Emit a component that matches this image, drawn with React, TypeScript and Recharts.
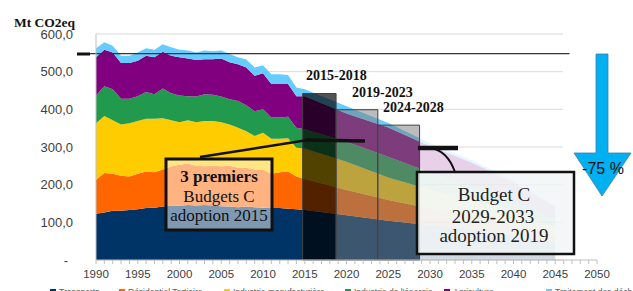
import { AreaChart, Area, XAxis, YAxis, CartesianGrid, ReferenceArea, ReferenceLine } from "recharts";

// années : historique annuel puis projection tous les 5 ans
const YEARS = [
  1990, 1991, 1992, 1993, 1994, 1995, 1996, 1997, 1998, 1999,
  2000, 2001, 2002, 2003, 2004, 2005, 2006, 2007, 2008, 2009,
  2010, 2011, 2012, 2013, 2014, 2015,
  2020, 2025, 2030, 2035, 2040, 2045,
];

const TRANSPORTS = [
  123, 126, 131, 131, 133, 135, 138, 139, 142, 144,
  144, 146, 145, 146, 145, 143, 142, 140, 142, 140,
  139, 138, 138, 136, 135, 133,
  119, 104, 92, 80, 65, 45,
];
const RESIDENTIEL = [
  90, 105, 98, 93, 89, 94, 97, 94, 98, 104,
  109, 110, 105, 103, 105, 106, 108, 105, 103, 100,
  101, 91, 95, 99, 87, 82,
  67, 55, 45, 38, 30, 20,
];
const INDUSTRIE_MANUF = [
  150, 151, 142, 136, 141, 140, 140, 142, 136, 123,
  113, 115, 116, 120, 119, 117, 110, 106, 97, 89,
  98, 93, 89, 88, 76, 81,
  75, 60, 50, 42, 33, 22,
];
const ENERGIE = [
  74, 79, 82, 68, 65, 66, 71, 65, 79, 72,
  71, 64, 68, 71, 70, 68, 67, 71, 69, 66,
  62, 56, 56, 57, 53, 51,
  53, 55, 45, 38, 30, 20,
];
const AGRICULTURE = [
  101, 97, 98, 95, 95, 94, 96, 98, 98, 99,
  101, 100, 97, 93, 94, 101, 98, 98, 100, 94,
  96, 89, 89, 87, 84, 88,
  75, 78, 70, 60, 48, 33,
];
const DECHETS = [
  24, 20, 18, 19, 19, 22, 20, 20, 20, 23,
  20, 21, 20, 23, 21, 21, 22, 18, 21, 22,
  21, 26, 26, 24, 23, 18,
  19, 12, 8, 7, 6, 5,
];

const SECTORS = [
  { key: "transports", name: "Transports", color: "#003366", values: TRANSPORTS },
  { key: "residentiel", name: "Résidentiel Tertiaire", color: "#FF6600", values: RESIDENTIEL },
  { key: "manuf", name: "Industrie manufacturière", color: "#FFCC00", values: INDUSTRIE_MANUF },
  { key: "energie", name: "Industrie de l'énergie", color: "#229A4E", values: ENERGIE },
  { key: "agri", name: "Agriculture", color: "#800080", values: AGRICULTURE },
  { key: "dechets", name: "Traitement des déchets", color: "#66CCFF", values: DECHETS },
];

// budgets carbone
const BUDGET_LABELS = ["2015-2018", "2019-2023", "2024-2028"];
const BUDGET_START = [2015, 2019, 2024];
const BUDGET_END = [2018, 2023, 2028];
const BUDGET_VALUES = [442, 399, 358];

const Y_TICKS = [0, 100, 200, 300, 400, 500, 600];
const X_LABELS = [1990, 1995, 2000, 2005, 2010, 2015, 2020, 2025, 2030, 2035, 2040, 2045, 2050];
const X_MINOR = Array.from({ length: 61 }, (_, i) => 1990 + i);
const REF_1990 = 548;
const FADE_FROM = 2028.7;

const data = YEARS.map((year, i) => {
  const row: Record<string, number> = { year };
  SECTORS.forEach((s) => (row[s.key] = s.values[i]));
  return row;
});

const fadeOffset = (FADE_FROM - YEARS[0]) / (YEARS[YEARS.length - 1] - YEARS[0]);

const SANS = "'Liberation Sans', Arial, sans-serif";
const SERIF = "'Liberation Serif', 'Times New Roman', serif";

function YTick({ x, y, payload }: any) {
  const v = payload.value as number;
  const label = v === 0 ? "-" : v.toFixed(1).replace(".", ",");
  return (
    <text x={v === 0 ? x - 5 : x} y={y} dy="0.36em" textAnchor="end" fontSize={13} fontFamily={SANS} fill="#404040">
      {label}
    </text>
  );
}

function XTick({ x, y, payload }: any) {
  if (!X_LABELS.includes(payload.value)) return <g />;
  return (
    <text x={x} y={y} dy="0.71em" textAnchor="middle" fontSize={11.5} fontFamily={SANS} fill="#404040">
      {payload.value}
    </text>
  );
}

const LEGEND_LEFT = [50, 119, 224, 345, 444, 546];

export default function App() {
  return (
    <div style={{ position: "absolute", left: 0, top: 0, width: 633, height: 291, overflow: "hidden", background: "#fff" }}>
      <AreaChart width={633} height={291} data={data} margin={{ top: 34, right: 36, left: 0, bottom: 11 }}>
        <defs>
          {SECTORS.map((s) => (
            <linearGradient key={s.key} id={`g-${s.key}`} x1="0" y1="0" x2="1" y2="0">
              <stop offset={0} stopColor={s.color} stopOpacity={1} />
              <stop offset={fadeOffset} stopColor={s.color} stopOpacity={1} />
              <stop offset={fadeOffset} stopColor={s.color} stopOpacity={0.18} />
              <stop offset={1} stopColor={s.color} stopOpacity={0.18} />
            </linearGradient>
          ))}
        </defs>
        <CartesianGrid vertical={false} stroke="#d9d9d9" width={467} />
        <XAxis
          dataKey="year"
          type="number"
          domain={[1990, 2050]}
          ticks={X_MINOR}
          interval={0}
          tick={<XTick />}
          tickSize={4}
          tickMargin={6}
          height={20}
          axisLine={{ stroke: "#bfbfbf" }}
          tickLine={{ stroke: "#bfbfbf" }}
        />
        <YAxis
          domain={[0, 600]}
          ticks={Y_TICKS}
          width={96}
          tick={<YTick />}
          tickSize={0}
          tickMargin={23}
          tickLine={false}
          axisLine={{ stroke: "#bfbfbf" }}
        />
        {SECTORS.map((s) => (
          <Area
            key={s.key}
            type="linear"
            dataKey={s.key}
            name={s.name}
            stackId="1"
            stroke="none"
            fill={`url(#g-${s.key})`}
            fillOpacity={1}
            dot={false}
            activeDot={false}
            isAnimationActive={false}
          />
        ))}
        {BUDGET_VALUES.map((v, i) => (
          <ReferenceArea
            key={BUDGET_LABELS[i]}
            x1={BUDGET_START[i] - 0.25}
            x2={BUDGET_END[i] + 0.75}
            y1={0}
            y2={v}
            fill={i === 0 ? "#000000" : "#7a7a7a"}
            fillOpacity={i === 0 ? 0.68 : 0.5}
            stroke="#404040"
            strokeWidth={1}
          />
        ))}
        <ReferenceLine
          segment={[{ x: 1989.2, y: REF_1990 }, { x: 2046.7, y: REF_1990 }]}
          stroke="#333"
          strokeWidth={1.2}
          ifOverflow="visible"
        />
      </AreaChart>

      <svg width={633} height={291} style={{ position: "absolute", left: 0, top: 0, pointerEvents: "none" }}>
        <text x={14} y={27} fontFamily={SERIF} fontWeight="bold" fontSize={13.5} fill="#111">Mt CO2eq</text>
        <line x1={77} y1={54} x2={90} y2={54} stroke="#111" strokeWidth={3} />

        <text x={306} y={80} fontFamily={SERIF} fontWeight="bold" fontSize={14} fill="#111">{BUDGET_LABELS[0]}</text>
        <text x={352} y={96.5} fontFamily={SERIF} fontWeight="bold" fontSize={14} fill="#111">{BUDGET_LABELS[1]}</text>
        <text x={383} y={111.5} fontFamily={SERIF} fontWeight="bold" fontSize={14} fill="#111">{BUDGET_LABELS[2]}</text>

        {/* 3 premiers budgets */}
        <line x1={200} y1={157} x2={311} y2={139.5} stroke="#111" strokeWidth={2.5} />
        <line x1={305} y1={140} x2={365} y2={141} stroke="#111" strokeWidth={3.5} />
        <rect x={166} y={159} width={106} height={71} fill="#ffffff" fillOpacity={0.5} stroke="#111" strokeWidth={3} />
        <text x={219} y={182} textAnchor="middle" fontFamily={SERIF} fontWeight="bold" fontSize={17} fill="#111">3 premiers</text>
        <text x={219} y={202} textAnchor="middle" fontFamily={SERIF} fontSize={17} fill="#111">Budgets C</text>
        <text x={219} y={221} textAnchor="middle" fontFamily={SERIF} fontSize={17} fill="#111">adoption 2015</text>

        {/* budget 2029-2033 */}
        <line x1={418} y1={148} x2={458} y2={148} stroke="#111" strokeWidth={4.5} />
        <path d="M430,148 Q447,150 455,172" fill="none" stroke="#111" strokeWidth={2} />
        <rect x={417} y={172} width={157} height={82} fill="#f0f5f5" fillOpacity={0.82} stroke="#111" strokeWidth={2.5} />
        <text x={494} y={201} textAnchor="middle" fontFamily={SERIF} fontSize={19} fill="#222">Budget C</text>
        <text x={493} y={223} textAnchor="middle" fontFamily={SERIF} fontSize={19} fill="#222">2029-2033</text>
        <text x={494} y={242} textAnchor="middle" fontFamily={SERIF} fontSize={19} fill="#222">adoption 2019</text>

        {/* flèche -75 % */}
        <polygon
          points="596,54 608,54 608,153 631,153 602,196 574,153 596,153"
          fill="#00B0F0"
          stroke="#3d7fae"
          strokeWidth={0.8}
        />
        <text x={603} y={174} textAnchor="middle" fontFamily={SANS} fontSize={16} fill="#111">-75 %</text>
      </svg>

      <div style={{ position: "absolute", left: 0, top: 287, width: 633, height: 12, fontFamily: SANS, fontSize: 8.5, color: "#595959" }}>
        {SECTORS.map((s, i) => (
          <div key={s.key} style={{ position: "absolute", left: LEGEND_LEFT[i], top: 0, display: "flex", alignItems: "center", whiteSpace: "nowrap", lineHeight: "10px" }}>
            <span style={{ display: "inline-block", width: 6, height: 6, background: s.color, marginRight: 3 }} />
            {s.name}
          </div>
        ))}
      </div>
    </div>
  );
}
